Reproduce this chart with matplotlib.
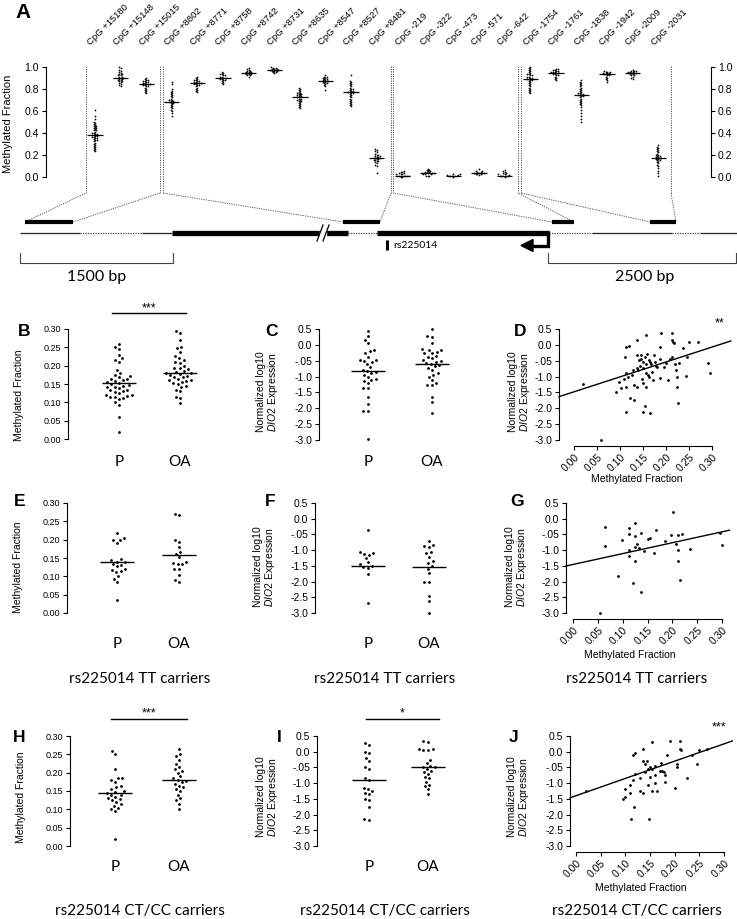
import numpy as np
import matplotlib
matplotlib.use('Agg')
import matplotlib.pyplot as plt
from matplotlib.transforms import blended_transform_factory
from matplotlib.patches import Polygon, Rectangle

plt.rcParams['font.family'] = ['Liberation Sans', 'DejaVu Sans']
plt.rcParams['mathtext.fontset'] = 'custom'
plt.rcParams['mathtext.rm'] = 'Liberation Sans'
plt.rcParams['mathtext.it'] = 'Liberation Sans:italic'

# ------------------------------------------------------------------ data
cpg_labels = ['CpG +15180', 'CpG +15148', 'CpG +15015', 'CpG +8802', 'CpG +8771',
              'CpG +8758', 'CpG +8742', 'CpG +8731', 'CpG +8635', 'CpG +8547',
              'CpG +8527', 'CpG +8481', 'CpG -219', 'CpG -322', 'CpG -473',
              'CpG -571', 'CpG -642', 'CpG -1754', 'CpG -1761', 'CpG -1838',
              'CpG -1942', 'CpG -2009', 'CpG -2031']
cpg_means = [0.38, 0.90, 0.84, 0.68, 0.85, 0.90, 0.94, 0.97, 0.72, 0.87, 0.77, 0.17,
             0.01, 0.03, 0.01, 0.03, 0.01, 0.89, 0.94, 0.74, 0.93, 0.94, 0.17]

m_p15180 = [0.61,0.55,0.52,0.50,0.49,0.48,0.47,0.46,0.46,0.45,0.44,0.44,0.43,0.42,0.42,0.41,0.40,0.40,0.39,0.39,0.38,0.38,0.37,0.37,0.36,0.36,0.35,0.35,0.34,0.33,0.33,0.32,0.31,0.30,0.29,0.28,0.27,0.26,0.25,0.24,0.23]
m_p15148 = [1.00,0.99,0.97,0.96,0.95,0.94,0.93,0.93,0.92,0.92,0.91,0.91,0.90,0.90,0.90,0.89,0.89,0.88,0.88,0.87,0.87,0.86,0.85,0.84,0.83,0.82]
m_p15015 = [0.90,0.89,0.88,0.88,0.87,0.87,0.86,0.86,0.85,0.85,0.84,0.84,0.84,0.83,0.83,0.82,0.82,0.81,0.80,0.79,0.78,0.77,0.76]
m_p8802 = [0.86,0.84,0.80,0.78,0.77,0.76,0.75,0.74,0.73,0.72,0.71,0.70,0.70,0.69,0.69,0.68,0.68,0.67,0.67,0.66,0.65,0.64,0.63,0.62,0.61,0.60,0.58,0.55]
m_p8771 = [0.91,0.90,0.89,0.88,0.88,0.87,0.87,0.86,0.86,0.85,0.85,0.85,0.84,0.84,0.83,0.83,0.82,0.81,0.80,0.79,0.78,0.77]
m_p8758 = [0.95,0.94,0.93,0.93,0.92,0.92,0.91,0.91,0.90,0.90,0.90,0.89,0.89,0.88,0.88,0.87,0.86,0.85,0.84]
m_p8742 = [0.99,0.98,0.97,0.96,0.96,0.95,0.95,0.95,0.94,0.94,0.94,0.93,0.93,0.93,0.92,0.92,0.91]
m_p8731 = [0.995,0.99,0.99,0.98,0.98,0.98,0.97,0.97,0.97,0.97,0.96,0.96,0.96,0.95,0.95,0.94]
m_p8635 = [0.81,0.80,0.79,0.78,0.77,0.76,0.76,0.75,0.75,0.74,0.74,0.73,0.73,0.72,0.72,0.71,0.71,0.70,0.70,0.69,0.69,0.68,0.67,0.66,0.65,0.64,0.63,0.62]
m_p8547 = [0.92,0.91,0.91,0.90,0.90,0.89,0.89,0.88,0.88,0.87,0.87,0.87,0.86,0.86,0.85,0.85,0.84,0.83,0.82,0.79]
m_p8527 = [0.92,0.87,0.86,0.85,0.84,0.83,0.82,0.81,0.80,0.80,0.79,0.78,0.78,0.77,0.77,0.76,0.76,0.75,0.74,0.73,0.72,0.71,0.70,0.69,0.68,0.67,0.66,0.65,0.64]
m_p8481 = [0.25,0.24,0.23,0.22,0.21,0.20,0.20,0.19,0.19,0.18,0.18,0.17,0.17,0.17,0.16,0.16,0.15,0.15,0.14,0.14,0.13,0.12,0.11,0.10,0.03]
m_m219 = [0.05,0.04,0.04,0.03,0.03,0.02,0.02,0.02,0.01,0.01,0.01,0.01,0.005,0.005,0.0,0.0]
m_m322 = [0.07,0.06,0.06,0.05,0.05,0.04,0.04,0.04,0.03,0.03,0.03,0.03,0.02,0.02,0.02,0.01,0.01,0.005]
m_m473 = [0.02,0.02,0.015,0.015,0.01,0.01,0.01,0.005,0.005,0.0]
m_m571 = [0.07,0.05,0.05,0.04,0.04,0.035,0.03,0.03,0.03,0.025,0.02,0.02,0.015]
m_m642 = [0.06,0.05,0.04,0.03,0.03,0.02,0.02,0.015,0.01,0.01,0.01,0.005,0.005,0.0]
m_m1754 = [1.0,0.99,0.98,0.97,0.96,0.95,0.94,0.93,0.93,0.92,0.92,0.91,0.91,0.90,0.90,0.89,0.89,0.88,0.88,0.87,0.86,0.85,0.84,0.83,0.82,0.81,0.80,0.79,0.78,0.77,0.76]
m_m1761 = [0.98,0.975,0.97,0.97,0.96,0.96,0.95,0.95,0.95,0.94,0.94,0.94,0.93,0.93,0.92,0.92,0.91,0.90,0.89,0.88]
m_m1838 = [0.88,0.86,0.85,0.84,0.83,0.82,0.81,0.80,0.79,0.78,0.77,0.76,0.76,0.75,0.75,0.74,0.74,0.73,0.73,0.72,0.71,0.70,0.69,0.68,0.67,0.66,0.65,0.63,0.61,0.58,0.55,0.52,0.50]
m_m1942 = [0.96,0.955,0.95,0.95,0.94,0.94,0.94,0.93,0.93,0.93,0.92,0.92,0.91,0.90,0.89,0.88,0.86]
m_m2009 = [0.97,0.965,0.96,0.96,0.95,0.95,0.95,0.94,0.94,0.94,0.93,0.93,0.92,0.92,0.91,0.90,0.89]
m_m2031 = [0.29,0.27,0.26,0.25,0.24,0.23,0.22,0.21,0.20,0.20,0.19,0.19,0.18,0.18,0.17,0.17,0.17,0.16,0.16,0.15,0.15,0.14,0.13,0.12,0.11,0.10,0.08,0.05,0.03,0.01]

cpg_columns = [m_p15180, m_p15148, m_p15015, m_p8802, m_p8771, m_p8758, m_p8742,
               m_p8731, m_p8635, m_p8547, m_p8527, m_p8481, m_m219, m_m322, m_m473,
               m_m571, m_m642, m_m1754, m_m1761, m_m1838, m_m1942, m_m2009, m_m2031]

groups = ['P', 'OA']

# methylated fraction, all samples
B_P = [0.26,0.25,0.245,0.23,0.22,0.215,0.21,0.188,0.18,0.175,0.172,0.168,0.165,0.163,0.16,0.158,0.155,0.152,0.15,0.147,0.145,0.143,0.141,0.138,0.135,0.134,0.13,0.129,0.125,0.12,0.12,0.118,0.115,0.114,0.111,0.108,0.10,0.093,0.061,0.02]
B_OA = [0.295,0.29,0.27,0.252,0.247,0.238,0.226,0.22,0.215,0.21,0.208,0.2,0.195,0.193,0.19,0.186,0.184,0.181,0.179,0.178,0.175,0.173,0.17,0.168,0.165,0.161,0.161,0.158,0.156,0.154,0.15,0.145,0.143,0.134,0.131,0.114,0.111,0.097]
B_med = [0.153, 0.181]
# DIO2 expression, all samples
C_P = [0.45,0.28,0.15,0.05,-0.16,-0.2,-0.25,-0.37,-0.48,-0.48,-0.5,-0.53,-0.6,-0.71,-0.79,-0.82,-0.87,-0.9,-0.95,-1.0,-1.08,-1.11,-1.15,-1.21,-1.35,-1.37,-1.63,-1.87,-2.09,-2.09,-2.98]
C_OA = [0.5,0.28,0.26,0.05,-0.14,-0.16,-0.16,-0.21,-0.27,-0.27,-0.35,-0.37,-0.43,-0.48,-0.51,-0.53,-0.58,-0.6,-0.64,-0.67,-0.74,-0.79,-0.9,-0.95,-1.0,-1.11,-1.21,-1.27,-1.27,-1.63,-1.79,-2.14]
C_med = [-0.83, -0.60]
# methylation vs expression, all samples
D_points = [(0.02,-1.23),(0.059,-3.0),(0.092,-1.48),(0.098,-1.16),(0.103,-1.37),(0.108,-1.08),
            (0.11,-0.39),(0.112,-0.9),(0.112,-2.13),(0.114,-0.06),(0.114,-1.32),(0.12,-0.04),
            (0.121,-1.69),(0.128,-0.79),(0.13,-1.25),(0.13,-1.74),(0.136,0.15),(0.136,-0.32),
            (0.136,-0.74),(0.137,-1.32),(0.141,-0.48),(0.144,-0.67),(0.146,-0.32),(0.146,-0.45),
            (0.148,-1.08),(0.149,-2.11),(0.15,-0.53),(0.15,-0.74),(0.151,-1.21),(0.154,-1.93),
            (0.155,-0.37),(0.156,0.31),(0.157,-0.61),(0.157,-0.9),(0.157,-1.32),(0.159,-0.29),
            (0.161,-0.95),(0.163,-0.48),(0.164,-1.0),(0.166,-2.16),(0.168,-0.61),(0.172,-1.11),
            (0.174,-0.32),(0.175,-0.53),(0.179,-0.67),(0.181,-0.71),(0.186,-0.46),(0.186,-1.06),
            (0.188,-0.06),(0.19,0.36),(0.2,-0.58),(0.204,-1.11),(0.208,-0.46),(0.212,-0.37),
            (0.212,0.15),(0.214,0.36),(0.215,0.1),(0.217,0.05),(0.219,-0.6),(0.222,-0.79),
            (0.224,-1.0),(0.224,-1.32),(0.226,-1.84),(0.228,-0.58),(0.237,-0.11),(0.244,-0.98),
            (0.246,-0.39),(0.25,0.1),(0.27,0.1),(0.291,-0.58),(0.295,-0.9),(0.125,-0.95),
            (0.14,-0.8),(0.165,-0.55),(0.17,-0.85),(0.195,-0.7),(0.118,-1.0)]
D_fit = (-1.48, 4.7)        # intercept, slope

# rs225014 TT carriers
E_P = [0.219,0.205,0.2,0.198,0.19,0.148,0.144,0.14,0.139,0.133,0.13,0.127,0.121,0.118,0.115,0.112,0.1,0.094,0.085,0.035]
E_OA = [0.27,0.266,0.198,0.194,0.18,0.166,0.162,0.153,0.139,0.136,0.133,0.133,0.121,0.121,0.105,0.091,0.085]
E_med = [0.139, 0.157]
F_P = [-0.36,-1.05,-1.08,-1.12,-1.15,-1.25,-1.38,-1.45,-1.52,-1.55,-1.58,-1.76,-2.67]
F_OA = [-0.71,-0.85,-0.87,-0.9,-1.06,-1.1,-1.22,-1.34,-1.41,-1.52,-1.6,-1.74,-2.0,-2.0,-2.46,-2.62,-3.0]
F_med = [-1.52, -1.55]
G_points = [(0.064,-0.26),(0.065,-0.87),(0.054,-3.0),(0.091,-1.81),(0.099,-0.68),(0.112,-0.31),
            (0.112,-0.49),(0.112,-1.0),(0.112,-1.19),(0.12,-2.05),(0.124,-0.13),(0.124,-0.55),
            (0.124,-0.89),(0.125,-1.34),(0.129,-0.81),(0.132,-0.94),(0.137,-2.34),(0.137,-0.45),
            (0.142,-1.02),(0.152,-0.63),(0.155,-0.6),(0.163,-1.08),(0.167,-0.36),(0.185,-0.7),
            (0.197,-0.53),(0.202,0.22),(0.207,-0.79),(0.211,-0.53),(0.211,-1.0),(0.211,-1.34),
            (0.215,-1.95),(0.219,-0.5),(0.235,-0.95),(0.295,-0.47),(0.30,-0.84)]
G_fit = (-1.456, 3.46)

# rs225014 CT/CC carriers
H_P = [0.26,0.25,0.21,0.185,0.185,0.18,0.175,0.165,0.16,0.155,0.15,0.148,0.145,0.14,0.14,0.135,0.13,0.128,0.125,0.12,0.115,0.11,0.105,0.10,0.095,0.02]
H_OA = [0.265,0.25,0.245,0.235,0.225,0.215,0.21,0.205,0.20,0.19,0.185,0.18,0.178,0.175,0.17,0.165,0.16,0.155,0.15,0.14,0.13,0.125,0.115,0.10]
H_med = [0.145, 0.181]
I_P = [0.28,0.2,0.0,-0.05,-0.2,-0.3,-0.5,-0.55,-0.85,-0.9,-1.15,-1.2,-1.25,-1.3,-1.35,-1.5,-1.55,-1.75,-2.15,-2.18]
I_OA = [0.35,0.32,0.1,0.08,0.07,0.05,-0.25,-0.35,-0.45,-0.5,-0.5,-0.55,-0.6,-0.65,-0.7,-0.8,-0.85,-0.95,-1.05,-1.1,-1.2,-1.35]
I_med = [-0.89, -0.48]
J_points = [(0.02,-1.25),(0.095,-1.5),(0.10,-1.2),(0.10,-1.45),(0.11,-1.05),(0.11,-1.3),
            (0.115,-0.1),(0.115,-0.9),(0.118,-1.75),(0.12,-0.05),(0.12,-0.7),(0.112,-2.15),
            (0.13,-0.85),(0.13,-1.25),(0.135,0.1),(0.135,-0.3),(0.135,-1.3),(0.14,-0.4),
            (0.14,-0.65),(0.143,-0.3),(0.145,-0.55),(0.145,-1.05),(0.148,-2.15),(0.15,-0.5),
            (0.15,-0.8),(0.155,0.3),(0.155,-0.55),(0.155,-1.25),(0.16,-0.45),(0.16,-0.75),
            (0.16,-1.0),(0.165,-1.25),(0.17,-0.6),(0.172,-0.35),(0.175,-0.6),(0.178,-0.65),
            (0.18,-0.95),(0.18,-0.75),(0.185,-0.1),(0.19,0.35),(0.2,-1.15),(0.205,-0.4),
            (0.205,-0.5),(0.21,0.1),(0.21,0.35),(0.212,0.05),(0.225,-0.85),(0.235,-0.1),
            (0.245,-0.4),(0.25,0.07),(0.265,0.1)]
J_fit = (-1.40, 5.5)

frac_ticks = [0.0, 0.05, 0.10, 0.15, 0.20, 0.25, 0.30]
frac_ticklabels = ['0.00', '0.05', '0.10', '0.15', '0.20', '0.25', '0.30']
expr_ticks = [-3.0, -2.5, -2.0, -1.5, -1.0, -0.5, 0.0, 0.5]
expr_ticklabels = ['-3.0', '-2.5', '-2.0', '-1.5', '-1.0', '-.05', '0.0', '0.5']
a_ticks = [0.0, 0.2, 0.4, 0.6, 0.8, 1.0]
a_ticklabels = ['0.0', '0.2', '0.4', '0.6', '0.8', '1.0']

# ------------------------------------------------------------------ figure
W, H = 737, 919
fig = plt.figure(figsize=(W / 100, H / 100), dpi=100)
ax0 = fig.add_axes([0, 0, 1, 1])
ax0.set_xlim(0, W)
ax0.set_ylim(H, 0)
ax0.axis('off')

NARROW = ['Liberation Sans Narrow', 'Liberation Sans', 'DejaVu Sans']
HUM = ['Lato', 'DejaVu Sans']
DOT = dict(color='#555555', lw=0.7, ls=(0, (1.2, 1.2)))


def px_axes(x0, y0, x1, y1):
    ax = fig.add_axes([x0 / W, 1 - y1 / H, (x1 - x0) / W, (y1 - y0) / H])
    ax.patch.set_visible(False)
    return ax


def swarm_offsets(py, d):
    order = np.argsort(py, kind='stable')
    xs = np.zeros(len(py))
    placed = []
    for i in order:
        y = py[i]
        near = [(xj, yj) for (xj, yj) in placed if abs(yj - y) < d]
        x = 0.0
        if near:
            cands = [0.0]
            for xj, yj in near:
                dx = np.sqrt(max(d * d - (yj - y) ** 2, 0))
                cands += [xj + dx, xj - dx]
            cands = sorted(cands, key=lambda c: (abs(c), c))
            for c in cands:
                if all((c - xj) ** 2 + (y - yj) ** 2 >= d * d - 1e-6 for xj, yj in near):
                    x = c
                    break
        xs[i] = x
        placed.append((x, y))
    return xs


def draw_swarm(ax, xc, vals, d, s):
    vals = np.asarray(vals, float)
    pts = ax.transData.transform(np.column_stack([np.full(len(vals), xc), vals]))
    off = swarm_offsets(pts[:, 1], d)
    pxu = ax.transData.transform((1, 0))[0] - ax.transData.transform((0, 0))[0]
    ax.scatter(xc + off / pxu, vals, s=s, c='black', linewidths=0, clip_on=False, zorder=3)


def style_left(ax, fs, family=None):
    for s in ['top', 'right', 'bottom']:
        ax.spines[s].set_visible(False)
    ax.spines['left'].set_linewidth(0.8)
    ax.tick_params(axis='y', direction='out', length=3, width=0.8, labelsize=fs, pad=2)
    ax.tick_params(axis='x', bottom=False, labelbottom=False)
    if family:
        for t in ax.get_yticklabels():
            t.set_family(family)


def strip_panel(spine, xp, xo, top, bot, ylim, ticks, tlabels, vp, vo, meds, fs,
                lab_y, family=None):
    right = xo + 40
    unit = xo - xp
    ax = px_axes(spine, top, right, bot)
    ax.set_xlim((spine - xp) / unit, (right - xp) / unit)
    ax.set_ylim(*ylim)
    ax.set_yticks(ticks)
    ax.set_yticklabels(tlabels)
    style_left(ax, fs, family)
    ax.spines['left'].set_bounds(ylim[0], ylim[1])
    draw_swarm(ax, 0, vp, 4.6, 4)
    draw_swarm(ax, 1, vo, 4.6, 4)
    hw = 17 / unit
    ax.hlines(meds, [0 - hw, 1 - hw], [0 + hw, 1 + hw], color='black', lw=1.0, zorder=4)
    for g, x in zip(groups, [xp, xo]):
        ax0.text(x, lab_y, g, ha='center', va='center', fontsize=11, family=HUM)
    return ax


def scatter_panel(spine, x0px, x30px, top, bot, xend, pts, fit, fs):
    pxu = (x30px - x0px) / 0.30
    xmin = (spine - x0px) / pxu
    ax = px_axes(spine, top, x0px + xend * pxu, bot)
    ax.set_xlim(xmin, xend)
    ax.set_ylim(-3.0, 0.5)
    for s in ['top', 'right']:
        ax.spines[s].set_visible(False)
    ax.spines['left'].set_linewidth(0.8)
    ax.spines['bottom'].set_linewidth(0.8)
    ax.spines['bottom'].set_position(('outward', 4))
    ax.spines['bottom'].set_bounds(0, 0.30)
    ax.spines['left'].set_bounds(-3.0, 0.5)
    ax.set_yticks(expr_ticks)
    ax.set_yticklabels(expr_ticklabels)
    ax.set_xticks(frac_ticks)
    ax.set_xticklabels(frac_ticklabels)
    ax.tick_params(direction='out', length=3, width=0.8, labelsize=fs, pad=2)
    plt.setp(ax.get_xticklabels(), rotation=45, ha='right', va='top',
             rotation_mode='anchor')
    xs = [p[0] for p in pts]
    ys = [p[1] for p in pts]
    ax.scatter(xs, ys, s=4, c='black', linewidths=0, clip_on=False, zorder=3)
    xx = np.array([xmin, xend])
    ax.plot(xx, fit[0] + fit[1] * xx, color='black', lw=1.0, clip_on=False)
    return ax


def ylab(x, y, s, fs=7.5, **kw):
    ax0.text(x, y, s, rotation=90, ha='center', va='center', fontsize=fs,
             linespacing=1.05, **kw)


def letter(x, y, s, fs=12.5):
    ax0.text(x, y, s, ha='center', va='center', fontsize=fs, fontweight='bold')


# ------------------------------------------------------------------ panel A
axA = px_axes(46, 66.7, 711, 176.7)
axA.set_xlim(-1.914, 24.06)
axA.set_ylim(0, 1)
for s in ['top', 'bottom']:
    axA.spines[s].set_visible(False)
for s in ['left', 'right']:
    axA.spines[s].set_linewidth(0.8)
axA.set_yticks(a_ticks)
axA.set_yticklabels(a_ticklabels)
axA.tick_params(axis='y', left=True, right=True, labelleft=True, labelright=True,
                direction='out', length=3, width=0.8, labelsize=7.5, pad=2)
axA.tick_params(axis='x', bottom=False, labelbottom=False)
for i, col in enumerate(cpg_columns):
    draw_swarm(axA, i, col, 1.7, 1.6)
axA.hlines(cpg_means, np.arange(len(cpg_means)) - 0.3, np.arange(len(cpg_means)) + 0.3,
           color='black', lw=0.9, zorder=4)
tr = blended_transform_factory(axA.transData, ax0.transData)
for i, lab in enumerate(cpg_labels):
    axA.text(i - 0.1, 47, lab, transform=tr, rotation=45, rotation_mode='anchor',
             ha='left', va='bottom', fontsize=6.8, clip_on=False)
ylab(8, 124, 'Methylated Fraction', fs=8)
letter(23, 12, 'A', fs=15)

# dotted region boundaries and connectors to the gene map
vlines_x = [86, 160, 163, 391, 393.5, 518, 521, 671]
for x in vlines_x:
    ax0.plot([x, x], [66, 193], **DOT)
connectors = [((25, 222), (86, 193)), ((73, 222), (160, 193)),
              ((343, 222), (163, 193)), ((380, 222), (391, 193)),
              ((552, 222), (393.5, 193)), ((574, 222), (518, 193)),
              ((650, 222), (521, 193)), ((676, 222), (671, 193))]
for (a, b) in connectors:
    ax0.plot([a[0], b[0]], [a[1], b[1]], **DOT)

# amplicon bars
for x0_, x1_ in [(25, 73), (343, 380), (552, 574), (650, 676)]:
    ax0.plot([x0_, x1_], [222, 222], color='black', lw=3.0, solid_capstyle='butt')

# gene line
GY = 233
thin = [(20, 80), (142, 172), (592, 672), (700, 737)]
dotted = [(80, 142), (348, 377), (549, 592), (672, 700)]
thick = [(172, 348), (377, 549)]
for a, b in thin:
    ax0.plot([a, b], [GY, GY], color='#222222', lw=0.9, solid_capstyle='butt')
for a, b in dotted:
    ax0.plot([a, b], [GY, GY], color='#444444', lw=0.9, ls=(0, (1, 1)))
for a, b in thick:
    ax0.plot([a, b], [GY, GY], color='black', lw=3.8, solid_capstyle='butt')
ax0.add_patch(Rectangle((320.5, 228), 5.5, 10, color='white', zorder=5))
for xs_ in [320, 326]:
    ax0.plot([xs_ - 3, xs_ + 3], [241, 225], color='black', lw=0.9, zorder=6)
# transcription start arrow
ax0.plot([548.5, 548.5, 531], [GY - 2, 245.5, 245.5], color='black', lw=2.4,
         solid_joinstyle='miter', solid_capstyle='butt')
ax0.add_patch(Polygon([(521, 245.5), (533, 239.5), (533, 251.5)], closed=True,
                      color='black'))
# SNP
ax0.plot([387, 387], [240, 250], color='black', lw=2.2, solid_capstyle='butt')
ax0.text(393, 245.5, 'rs225014', ha='left', va='center', fontsize=7.5, family=HUM)
# scale brackets
BR = dict(color='#444444', lw=0.8)
ax0.plot([20, 20, 173, 173], [253, 263, 263, 253], **BR)
ax0.plot([548, 548, 736, 736], [253, 263, 263, 253], **BR)
ax0.text(97, 277, '1500 bp', ha='center', va='center', fontsize=11.5, family=HUM)
ax0.text(645, 277, '2500 bp', ha='center', va='center', fontsize=11.5, family=HUM)

# ------------------------------------------------------------------ panels B-J
EXPR_LAB = 'Normalized log10\n$\\mathit{DIO2}$ Expression'

# row 1
strip_panel(68, 119, 180, 329, 439, (0, 0.30), frac_ticks, frac_ticklabels,
            B_P, B_OA, B_med, 6.5, 462)
ylab(19, 395, 'Methylated Fraction')
letter(24, 331, 'B')
ax0.plot([112, 186], [313, 313], color='black', lw=1.0)
ax0.text(149, 308, '***', ha='center', va='center', fontsize=9)

strip_panel(319, 368, 432, 329, 440, (-3.0, 0.5), expr_ticks, expr_ticklabels,
            C_P, C_OA, C_med, 7.5, 462)
ylab(268, 392, EXPR_LAB)
letter(272, 331, 'C')

scatter_panel(559, 574, 712, 329, 440, 0.341, D_points, D_fit, 7.5)
ylab(520, 392, EXPR_LAB)
letter(520, 331, 'D')
ax0.text(637, 479, 'Methylated Fraction', ha='center', va='center', fontsize=7.5,
         family=NARROW)
ax0.text(720, 323, '**', ha='center', va='center', fontsize=9)

# row 2
strip_panel(67, 117, 179, 503, 613, (0, 0.30), frac_ticks, frac_ticklabels,
            E_P, E_OA, E_med, 6.5, 644, family=NARROW)
ylab(18, 567, 'Methylated Fraction')
letter(20, 502, 'E')

strip_panel(315, 368, 429, 503, 613, (-3.0, 0.5), expr_ticks, expr_ticklabels,
            F_P, F_OA, F_med, 7.5, 644)
ylab(265, 567, EXPR_LAB)
letter(270, 502, 'F')

scatter_panel(566, 573, 722, 503, 613, 0.315, G_points, G_fit, 7.5)
ylab(517, 567, EXPR_LAB)
letter(517, 502, 'G')
ax0.text(630, 655, 'Methylated Fraction', ha='center', va='center', fontsize=7.5,
         family=NARROW)

for x in [140, 385, 637]:
    ax0.text(x, 679, 'rs225014 TT carriers', ha='center', va='center', fontsize=11,
             family=HUM)

# row 3
strip_panel(70, 115, 179, 736, 846, (0, 0.30), frac_ticks, frac_ticklabels,
            H_P, H_OA, H_med, 6.5, 867, family=NARROW)
ylab(21, 797, 'Methylated Fraction')
letter(19, 737, 'H')
ax0.plot([111, 187], [719, 719], color='black', lw=1.0)
ax0.text(149, 713, '***', ha='center', va='center', fontsize=9)

strip_panel(317, 369, 428, 736, 846, (-3.0, 0.5), expr_ticks, expr_ticklabels,
            I_P, I_OA, I_med, 7.5, 867)
ylab(268, 797, EXPR_LAB)
letter(279, 737, 'I')
ax0.plot([366, 439], [719, 719], color='black', lw=1.0)
ax0.text(402, 713, '*', ha='center', va='center', fontsize=9)

scatter_panel(570, 576, 724, 736, 846, 0.317, J_points, J_fit, 7.5)
ylab(519, 797, EXPR_LAB)
letter(514, 737, 'J')
ax0.text(641, 888, 'Methylated Fraction', ha='center', va='center', fontsize=7.5,
         family=NARROW)
ax0.text(719, 727, '***', ha='center', va='center', fontsize=9)

for x in [140, 385, 637]:
    ax0.text(x, 911, 'rs225014 CT/CC carriers', ha='center', va='center', fontsize=11,
             family=HUM)

fig.savefig('out.png', dpi=100)
